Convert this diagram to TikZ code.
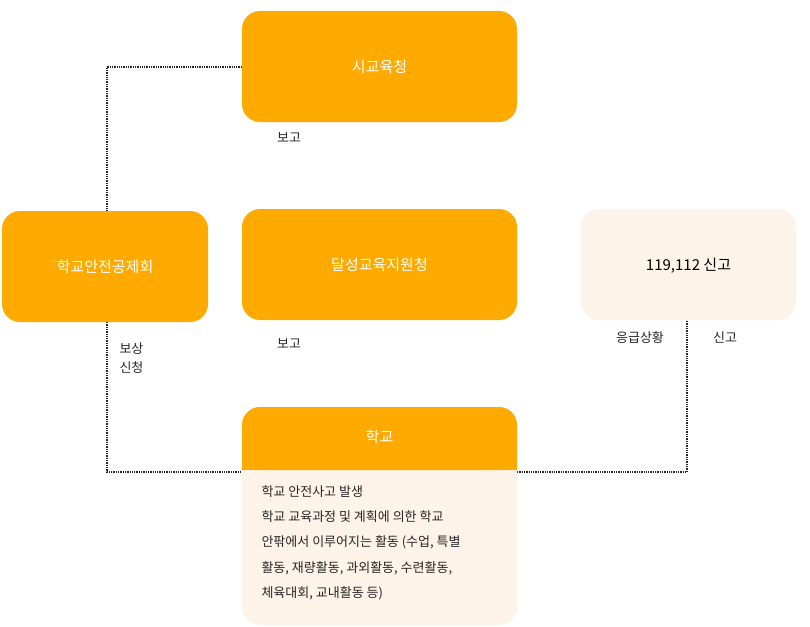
\documentclass[tikz,border=0pt]{standalone}
\usepackage{fontspec}
\setmainfont{Noto Sans CJK KR}
\begin{document}
\begin{tikzpicture}[x=1pt,y=-1pt,
 ob/.style={fill=orgc,draw=none,rounded corners=18pt},
 cb/.style={fill=crm,draw=none,rounded corners=18pt},
 tt/.style={text=white,font=\fontsize{15}{18}\selectfont},
 lb/.style={font=\fontsize{13}{16}\selectfont,text=black!85},
 ln/.style={densely dotted,line width=1.3pt,black!85}]
\definecolor{orgc}{HTML}{FFAA00}
\definecolor{crm}{HTML}{FDF3E9}
\useasboundingbox (0,0) rectangle (810,626);
\coordinate (c1) at (107,67);
\coordinate (c2) at (107,472);
\coordinate (c3) at (687,472);
\draw[ln] (242,67) -- (c1) -- (107,211);
\draw[ln] (107,322) -- (c2) -- (242,472);
\draw[ln] (517,472) -- (c3) -- (687,320);
\fill[ob] (242,11) rectangle (517,122);
\node[tt] (si) at (379.5,67) {시교육청};
\fill[ob] (2,211) rectangle (208,322);
\node[tt] (gj) at (105,267) {학교안전공제회};
\fill[ob] (242,209) rectangle (517,320);
\node[tt] (ds) at (379.5,265) {달성교육지원청};
\fill[cb] (581,209) rectangle (796,320);
\node[font=\fontsize{15}{18}\selectfont] (sg) at (688.5,266) {119,112 신고};
\fill[cb] (242,407) rectangle (517,625);
\fill[ob] (242,407) rectangle (517,470);
\fill[orgc] (242,440) rectangle (517,470);
\node[tt] (hk) at (379.5,437) {학교};
\node[lb,anchor=north west,align=left,font=\fontsize{13}{25.3}\selectfont] (body) at (258,482)
 {학교 안전사고 발생\\학교 교육과정 및 계획에 의한 학교\\안팎에서 이루어지는 활동 (수업, 특별\\활동, 재량활동, 과외활동, 수련활동,\\체육대회, 교내활동 등)};
\node[lb] (l1) at (289,138) {보고};
\node[lb] (l2) at (289,344) {보고};
\node[lb,anchor=north west,align=left,font=\fontsize{13}{19}\selectfont] (l3) at (116,339) {보상\\신청};
\node[lb] (l4) at (640,338) {응급상황};
\node[lb] (l5) at (725,338) {신고};
\end{tikzpicture}
\end{document}
